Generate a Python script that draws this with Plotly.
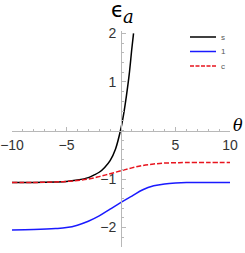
import plotly.graph_objects as go

theta = [-10, -8, -6, -5, -4, -3, -2.5, -2, -1.5, -1, -0.5, 0, 0.25, 0.5, 0.75, 1.0, 1.15]
s_vals = [-1.07, -1.07, -1.06, -1.05, -1.02, -0.97, -0.92, -0.86, -0.76, -0.62, -0.38, 0.05, 0.35, 0.72, 1.15, 1.7, 2.0]

theta2 = [-10, -8, -6, -5, -4, -3, -2, -1, 0, 1, 2, 3, 4, 5, 6, 8, 10]
one_vals = [-2.05, -2.04, -2.02, -2.0, -1.95, -1.87, -1.76, -1.62, -1.48, -1.35, -1.22, -1.14, -1.10, -1.08, -1.07, -1.07, -1.07]
c_vals = [-1.07, -1.07, -1.06, -1.05, -1.03, -1.0, -0.95, -0.89, -0.83, -0.77, -0.72, -0.69, -0.67, -0.665, -0.66, -0.66, -0.66]

series_names = ["s", "1", "c"]
series_colors = ["black", "#1a1aff", "#e8141e"]
series_dash = ["solid", "solid", "5px,2px"]
legend_dash = ["solid", "solid", "4px,1.5px"]

x_ticks = [-10, -5, 5, 10]
y_ticks = [-2, -1, 1, 2]
x_range = [-10, 10]
y_range = [-2.4, 2.05]

W, H = 245, 253
ML, MR, MT, MB = 12, 15, 31, 6
PW, PH = W - ML - MR, H - MT - MB

def px_x(p):
    return (p - ML) / PW

def px_y(p):
    return (H - MB - p) / PH

fig = go.Figure()
for xs, ys, nm, col, ds in zip([theta, theta2, theta2], [s_vals, one_vals, c_vals],
                               series_names, series_colors, series_dash):
    fig.add_trace(go.Scatter(x=xs, y=ys, mode="lines", name=nm, showlegend=False,
                             line=dict(color=col, width=1.5, dash=ds, shape="spline")))

axcol = "#b8b8b8"
tickfont = dict(family="Liberation Sans, Arial, sans-serif", size=14, color="#333333")

fig.update_layout(
    width=W, height=H,
    margin=dict(l=ML, r=MR, t=MT, b=MB, autoexpand=False),
    paper_bgcolor="white", plot_bgcolor="white",
    showlegend=False,
    xaxis=dict(range=x_range, anchor="free", automargin=False,
               position=(0 - y_range[0]) / (y_range[1] - y_range[0]),
               showgrid=False, zeroline=False, showline=True, linecolor=axcol, linewidth=1,
               tickmode="array", tickvals=x_ticks, ticks="inside", ticklen=4, tickcolor=axcol,
               tickfont=tickfont, ticklabelstandoff=2,
               minor=dict(tickmode="linear", tick0=0, dtick=1, ticks="inside", ticklen=2, tickcolor=axcol)),
    yaxis=dict(range=y_range, anchor="free", automargin=False,
               position=(0 - x_range[0]) / (x_range[1] - x_range[0]),
               showgrid=False, zeroline=False, showline=True, linecolor=axcol, linewidth=1,
               tickmode="array", tickvals=y_ticks, ticks="inside", ticklen=4, tickcolor=axcol,
               tickfont=tickfont, ticklabelstandoff=2,
               minor=dict(tickmode="linear", tick0=0, dtick=0.2, ticks="inside", ticklen=2, tickcolor=axcol)),
)

# manual legend (compact rows like the reference)
leg_rows = [37, 51.5, 66]
for nm, col, ds, ry in zip(series_names, series_colors, legend_dash, leg_rows):
    fig.add_shape(type="line", xref="paper", yref="paper",
                  x0=px_x(190), x1=px_x(216), y0=px_y(ry), y1=px_y(ry),
                  line=dict(color=col, width=1.5, dash=ds))
    fig.add_annotation(text=nm, xref="paper", yref="paper", x=px_x(219), y=px_y(ry),
                       xanchor="left", yanchor="middle", showarrow=False,
                       font=dict(family="Liberation Sans, Arial, sans-serif", size=8, color="#555555"))

fig.add_annotation(text="ϵ", xref="paper", x=px_x(117), yref="paper", y=px_y(10),
                   xanchor="center", yanchor="middle", showarrow=False,
                   font=dict(family="DejaVu Sans", size=21, color="black"))
fig.add_annotation(text="<i>a</i>", xref="paper", x=px_x(128), yref="paper", y=px_y(17),
                   xanchor="center", yanchor="middle", showarrow=False,
                   font=dict(family="DejaVu Serif", size=18, color="black"))
fig.add_annotation(text="<i>θ</i>", xref="paper", x=px_x(238), yref="paper", y=px_y(125),
                   xanchor="center", yanchor="middle", showarrow=False,
                   font=dict(family="DejaVu Serif", size=16, color="black"))

fig.write_html("out.html", config={"displayModeBar": False},
               post_script="document.body.style.margin='0';")
